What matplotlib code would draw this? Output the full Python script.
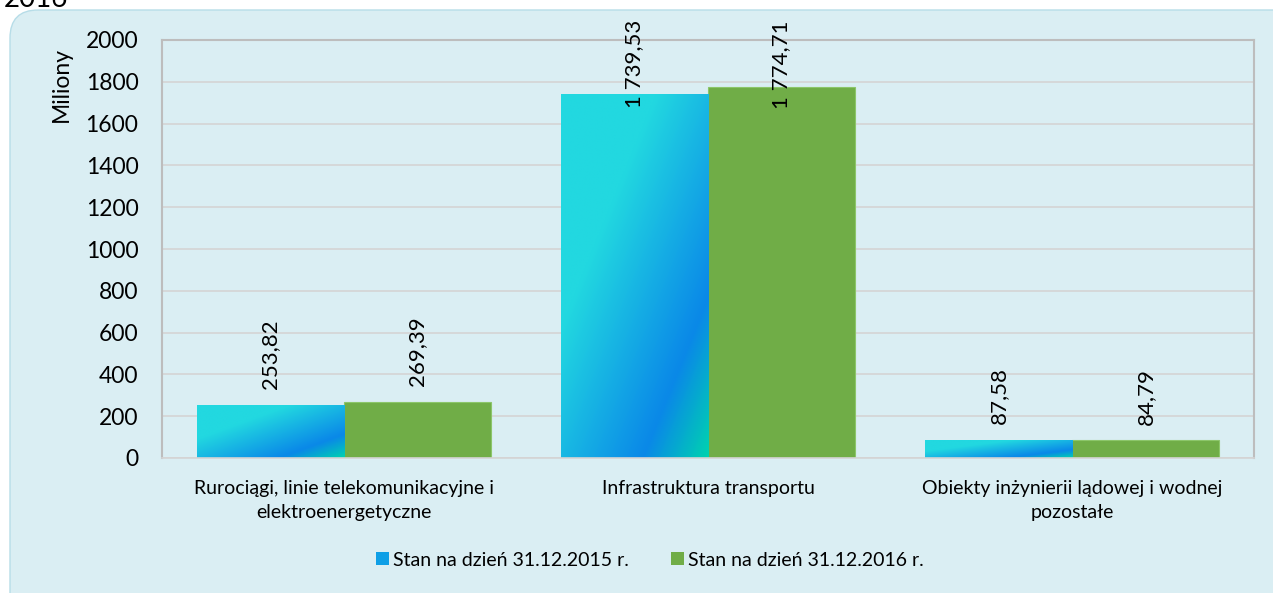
import numpy as np
import matplotlib
matplotlib.use("Agg")
import matplotlib.pyplot as plt
from matplotlib.patches import FancyBboxPatch, Rectangle, Patch
from matplotlib.colors import LinearSegmentedColormap

plt.rcParams['font.family'] = ['Lato', 'DejaVu Sans']

categories = ["Rurociągi, linie telekomunikacyjne i\nelektroenergetyczne",
              "Infrastruktura transportu",
              "Obiekty inżynierii lądowej i wodnej\npozostałe"]
values_2015 = [253.82, 1739.53, 87.58]
values_2016 = [269.39, 1774.71, 84.79]
labels_2015 = ["253,82", "1 739,53", "87,58"]
labels_2016 = ["269,39", "1 774,71", "84,79"]
series_names = ["Stan na dzień 31.12.2015 r.", "Stan na dzień 31.12.2016 r."]
yticks = [0, 200, 400, 600, 800, 1000, 1200, 1400, 1600, 1800, 2000]

W, H = 1273, 593
fig = plt.figure(figsize=(W / 100, H / 100), dpi=100)
fig.patch.set_facecolor("white")

# rounded background panel
bg = FancyBboxPatch((10 / W, -40 / H), (W + 30) / W, (H + 30) / H,
                    boxstyle="round,pad=0,rounding_size=0.022",
                    transform=fig.transFigure, facecolor="#DAEEF3",
                    edgecolor="#B7DDE8", linewidth=1.0, zorder=-5,
                    mutation_aspect=W / H)
fig.patches.append(bg)
fig.text(4 / W, 1.0 - 7 / H, "2016", fontsize=20,
         va="baseline", ha="left", color="black", zorder=-4)

ax = fig.add_axes([162 / W, 1 - 458 / H, (1254 - 162) / W, (458 - 40) / H])
ax.set_zorder(2)
ax.set_facecolor("none")
ax.set_yticks(yticks)
ax.set_yticklabels([str(t) for t in yticks], fontsize=16.5)
ax.grid(axis="y", color="#D4D4D4", linewidth=1.2, zorder=0)
ax.set_axisbelow(True)
for s in ["left", "top", "right"]:
    ax.spines[s].set_color("#BDBDBD")
    ax.spines[s].set_linewidth(1.5)
ax.spines["bottom"].set_color("#D4D4D4")
ax.spines["bottom"].set_linewidth(1.2)
ax.tick_params(axis="y", length=0, pad=17)
ax.tick_params(axis="x", length=0, pad=16)
ax.set_ylabel("Miliony", fontsize=16.5, va="center", ha="right")
ax.yaxis.set_label_coords(-101 / (1254 - 162), 1 - 7 / 418)

x = np.arange(len(categories))
bw = 0.404
b1 = ax.bar(x - bw / 2, values_2015, width=bw, color="#1BB8E6", zorder=2)
b2 = ax.bar(x + bw / 2, values_2016, width=bw, color="#70AD47",
            edgecolor="#8CC66A", linewidth=0.8, zorder=2)

cmap = LinearSegmentedColormap.from_list(
    "grad", [(0.0, "#22D8E0"), (0.32, "#22D8E0"), (0.78, "#0A88E8"),
             (1.0, "#00D2B0")])
u = np.linspace(0, 1, 120)
uu, vv = np.meshgrid(u, u)
grad = (uu + vv) / 2  # v = 0 at top row
for p in b1:
    x0, y0 = p.get_x(), p.get_y()
    w, h = p.get_width(), p.get_height()
    im = ax.imshow(grad, cmap=cmap, vmin=0, vmax=1, aspect="auto",
                   extent=(x0, x0 + w, y0, y0 + h), origin="upper",
                   zorder=2.5, interpolation="bilinear")
    im.set_clip_path(Rectangle((x0, y0), w, h, transform=ax.transData))
    p.set_visible(False)
ax.set_xlim(-0.5, 2.5)
ax.set_ylim(0, 2000)

ax.set_xticks(x)
ax.set_xticklabels(categories, fontsize=14, linespacing=1.45)

def label(bars, texts):
    for p, t in zip(bars, texts):
        cx = p.get_x() + p.get_width() / 2
        v = p.get_height()
        if v > 1500:
            ax.text(cx, 2095, t, rotation=90, ha="center", va="top",
                    fontsize=16, clip_on=False, zorder=4)
        else:
            ax.text(cx, v + 75, t, rotation=90, ha="center", va="bottom",
                    fontsize=16, clip_on=False, zorder=4)

label(b1, labels_2015)
label(b2, labels_2016)

h1 = Patch(facecolor="#0E9FE6", edgecolor="none")
h2 = Patch(facecolor="#70AD47", edgecolor="none")
leg = fig.legend([h1, h2], series_names, loc="center",
                 bbox_to_anchor=(650 / W, 1 - 560 / H), ncol=2, frameon=False,
                 fontsize=14, handlelength=0.65, handleheight=0.65,
                 handletextpad=0.2, columnspacing=2.2)

fig.savefig("out.png", dpi=100, facecolor=fig.get_facecolor())
